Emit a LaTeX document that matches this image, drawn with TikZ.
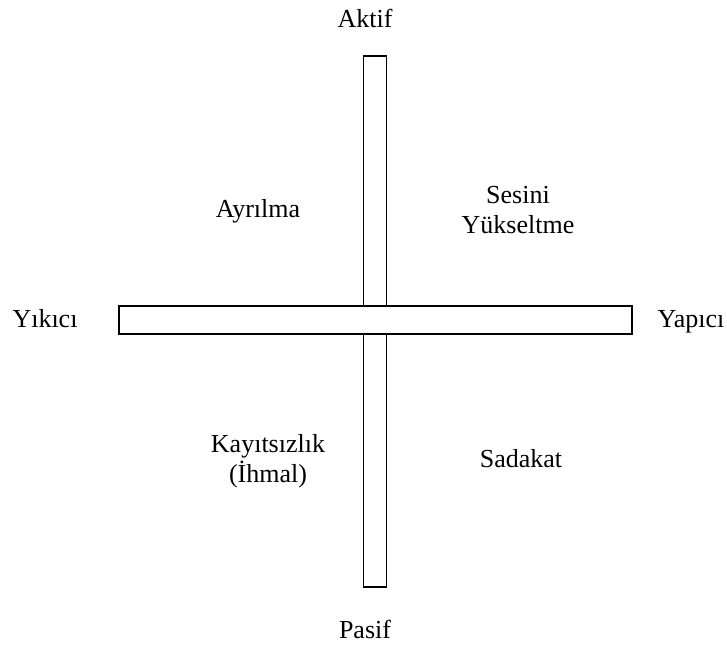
\documentclass[tikz,border=0pt]{standalone}
\usepackage{fontspec}
\setmainfont{Liberation Serif}
\usepackage{tikz}
\usetikzlibrary{positioning}
\definecolor{paperink}{HTML}{000000}

\tikzset{
  axislabel/.style={font=\fontsize{26}{30}\selectfont,inner sep=0pt,
    anchor=base,align=center,text=paperink},
  axisbar/.style={draw=paperink,line width=1.3pt,fill=white,inner sep=0pt}
}

\begin{document}
\begin{tikzpicture}[x=1pt,y=-1pt]
  \useasboundingbox (0,0) rectangle (727,647);
  % the two bars, the horizontal one laid over the vertical one
  \node[axisbar,minimum width=23pt,minimum height=531pt] (vbar) at (375,321.5) {};
  \node[axisbar,minimum width=513pt,minimum height=28pt] (hbar) at (375.5,320) {};
  % ends of the axes
  \node[axislabel] (aktif) at (365,28) {Aktif};
  \node[axislabel] (pasif) at (365,638) {Pasif};
  \node[axislabel] (yikici) at (45,327) {Yıkıcı};
  \node[axislabel] (yapici) at (691,327) {Yapıcı};
  % the four fields
  \node[axislabel] (ayrilma) at (258,217) {Ayrılma};
  \node[axislabel] (sesini) at (518,233) {Sesini\\Yükseltme};
  \node[axislabel] (ihmal) at (268,482) {Kayıtsızlık\\(İhmal)};
  \node[axislabel] (sadakat) at (521,467) {Sadakat};
\end{tikzpicture}
\end{document}
